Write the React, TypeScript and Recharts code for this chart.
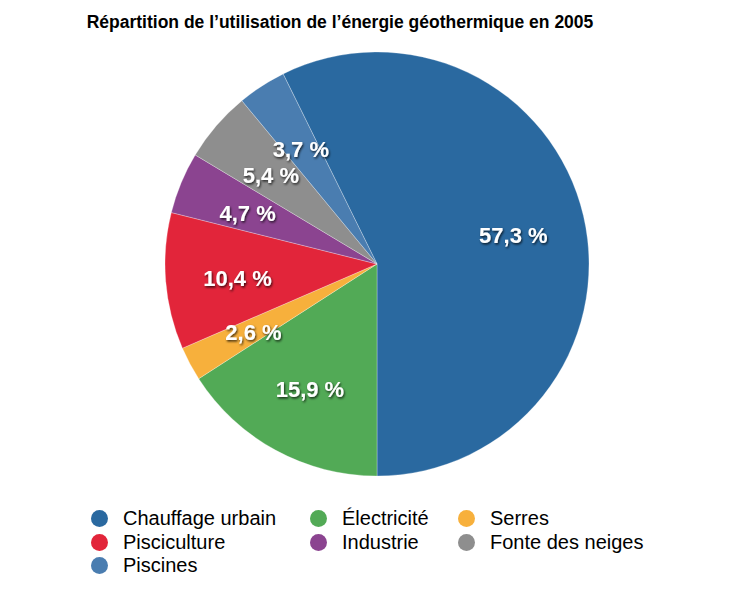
import React from "react";
import { PieChart, Pie, Cell, Legend } from "recharts";

// Usage shares (%) of geothermal energy, 2005
const categories = [
  "Chauffage urbain",
  "Électricité",
  "Serres",
  "Pisciculture",
  "Industrie",
  "Fonte des neiges",
  "Piscines",
];
const shares = [57.3, 15.9, 2.6, 10.4, 4.7, 5.4, 3.7];
const colors = [
  "#2a69a0",
  "#52aa56",
  "#f7b03c",
  "#e2253a",
  "#8b4490",
  "#8e8e8e",
  "#4a7db0",
];

const data = categories.map((name, i) => ({ name, value: shares[i] }));

const FONT = "'Liberation Sans', Arial, Helvetica, sans-serif";
const RADIAN = Math.PI / 180;

// first slice ends exactly at the bottom, going clockwise
const START = 90 + (shares[0] / 100) * 360 - 180;

const renderLabel = ({ cx, cy, midAngle, value }: any) => {
  const r = 140;
  const x = cx + r * Math.cos(-midAngle * RADIAN);
  const y = cy + r * Math.sin(-midAngle * RADIAN) + 3;
  return (
    <text
      x={x}
      y={y}
      fill="#fff"
      textAnchor="middle"
      dominantBaseline="central"
      fontFamily={FONT}
      fontSize={22}
      fontWeight="bold"
      filter="url(#labelShadow)"
    >
      {`${value.toFixed(1).replace(".", ",")} %`}
    </text>
  );
};

const LegendGrid = () => (
  <div
    style={{
      display: "grid",
      gridTemplateColumns: "219px 148px auto",
      fontFamily: FONT,
      fontSize: 20,
      color: "#000",
    }}
  >
    {categories.map((name, i) => (
      <div
        key={name}
        style={{ display: "flex", alignItems: "center", height: 23.5 }}
      >
        <span
          style={{
            width: 17,
            height: 17,
            borderRadius: "50%",
            background: colors[i],
            marginRight: 15,
            flexShrink: 0,
          }}
        />
        <span>{name}</span>
      </div>
    ))}
  </div>
);

export default function App() {
  return (
    <PieChart
      width={726}
      height={573}
      margin={{ top: 0, right: 0, bottom: 0, left: 0 }}
    >
      <defs>
        <filter id="labelShadow" x="-20%" y="-40%" width="140%" height="180%">
          <feDropShadow
            dx={1}
            dy={1.5}
            stdDeviation={1}
            floodColor="#000"
            floodOpacity={0.75}
          />
        </filter>
      </defs>
      <text
        x={332}
        y={20}
        textAnchor="middle"
        fontFamily={FONT}
        fontSize={17.5}
        fontWeight="bold"
        fill="#000"
      >
        Répartition de l’utilisation de l’énergie géothermique en 2005
      </text>
      <Pie
        data={data}
        dataKey="value"
        nameKey="name"
        cx={369}
        cy={256}
        outerRadius={212}
        startAngle={START}
        endAngle={START - 360}
        stroke="rgba(255,255,255,0.35)"
        strokeWidth={0.8}
        labelLine={false}
        label={renderLabel}
        isAnimationActive={false}
      >
        {data.map((d, i) => (
          <Cell key={d.name} fill={colors[i]} />
        ))}
      </Pie>
      <Legend
        content={<LegendGrid />}
        wrapperStyle={{ left: 83, top: 499, width: 620, bottom: "auto" }}
      />
    </PieChart>
  );
}
